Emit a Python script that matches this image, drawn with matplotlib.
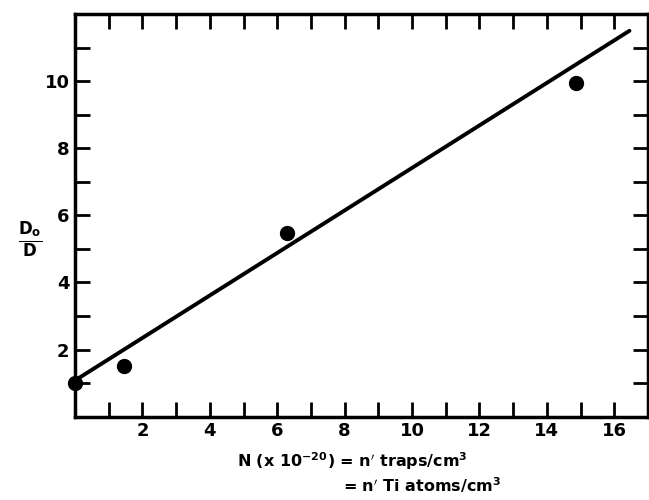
import matplotlib
matplotlib.use("Agg")
import matplotlib.pyplot as plt
import numpy as np

# Data
n_traps = [0.0, 1.45, 6.3, 14.85]
d0_over_d = [1.0, 1.5, 5.48, 9.95]
fit_x = [0.0, 16.45]
fit_y = [1.08, 11.5]
x_ticklabels = [2, 4, 6, 8, 10, 12, 14, 16]
y_ticklabels = [2, 4, 6, 8, 10]

plt.rcParams['font.family'] = ['DejaVu Sans']
plt.rcParams['font.weight'] = 'bold'
plt.rcParams['mathtext.default'] = 'bf'

fig = plt.figure(figsize=(6.49, 5.0), dpi=100)
ax = fig.add_axes([75/649, 1-416.7/500, (648-75)/649, (416.7-14)/500])

ax.plot(fit_x, fit_y, color='black', lw=2.8, solid_capstyle='round', zorder=2)
ax.plot(n_traps, d0_over_d, 'o', color='black', ms=10, zorder=3, clip_on=False)

ax.set_xlim(0, 17)
ax.set_ylim(0, 12)
ax.set_xticks(np.arange(1, 17))
ax.set_xticklabels([str(int(t)) if int(t) in x_ticklabels else '' for t in np.arange(1, 17)])
ax.set_yticks(np.arange(1, 12))
ax.set_yticklabels([str(int(t)) if int(t) in y_ticklabels else '' for t in np.arange(1, 12)])

ax.tick_params(direction='in', length=11, width=2, top=True, right=True,
               labelsize=13, pad=4)
for lab in ax.get_xticklabels() + ax.get_yticklabels():
    lab.set_fontweight('bold')
for s in ax.spines.values():
    s.set_linewidth(2.5)

fig.text(30/649, 1-240/500, r'$\frac{D_o}{D}$', ha='center', va='center', fontsize=17)
fig.text(352/649, 1-461/500, r'N (x 10$^{-20}$) = n$^{\prime}$ traps/cm$^{3}$',
         ha='center', va='center', fontsize=11.5, fontweight='bold')
fig.text(343/649, 1-485/500, r'= n$^{\prime}$ Ti atoms/cm$^{3}$',
         ha='left', va='center', fontsize=11.5, fontweight='bold')

fig.savefig('out.png', dpi=100)
